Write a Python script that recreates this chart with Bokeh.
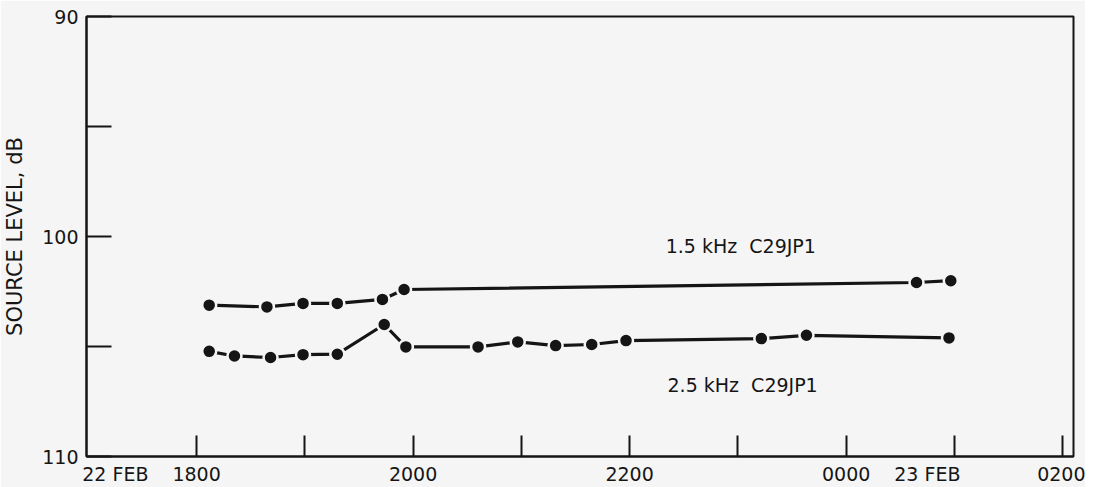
from bokeh.plotting import figure
from bokeh.models import Range1d, FixedTicker, Label
from bokeh.embed import file_html
from bokeh.resources import INLINE

# time in minutes after 1800 on 22 FEB
t_15 = [7, 39, 59, 78, 103, 115, 399, 418]
sl_15 = [103.12, 103.20, 103.04, 103.04, 102.86, 102.41, 102.09, 102.01]
t_25 = [7, 21, 41, 59, 78, 104, 116, 156, 178, 199, 219, 238, 313, 338, 417]
sl_25 = [105.22, 105.43, 105.50, 105.37, 105.35, 104.00, 105.02, 105.02,
         104.79, 104.96, 104.91, 104.73, 104.64, 104.49, 104.61]

hour_ticks = [0, 60, 120, 180, 240, 300, 360, 420, 480]
x_label_pos = [-45, 0, 120, 240, 360, 405, 480]
x_label_text = ["22 FEB", "1800", "2000", "2200", "0000", "23 FEB", "0200"]
y_ticks = [90, 95, 100, 105, 110]
y_tick_labels = ["90", "", "100", "", "110"]
series_names = ["1.5 kHz\u00a0\u00a0C29JP1", "2.5 kHz\u00a0\u00a0C29JP1"]

INK = "#151515"
BG = "#f5f5f5"
FONT = "DejaVu Sans"

p = figure(frame_width=987, frame_height=440, output_backend="svg", toolbar_location=None,
           x_range=Range1d(-61, 486), y_range=Range1d(110, 90),
           min_border_left=80, min_border_right=12, min_border_top=16, min_border_bottom=20)
p.background_fill_color = BG
p.border_fill_color = BG
p.grid.visible = False
p.outline_line_color = INK
p.outline_line_width = 2

for ax in (p.xaxis[0], p.yaxis[0]):
    ax.axis_line_color = INK
    ax.axis_line_width = 2
    ax.major_tick_line_color = INK
    ax.major_tick_line_width = 2
    ax.major_tick_out = 0
    ax.major_label_text_font = FONT
    ax.major_label_text_color = INK

# labels on major ticks (marks hidden), hourly marks drawn as minor ticks
p.xaxis.ticker = FixedTicker(ticks=x_label_pos, minor_ticks=hour_ticks)
p.xaxis.major_label_overrides = {t: l for t, l in zip(x_label_pos, x_label_text)}
p.xaxis.major_tick_line_color = None
p.xaxis.minor_tick_line_color = INK
p.xaxis.minor_tick_line_width = 2
p.xaxis.minor_tick_in = 21
p.xaxis.minor_tick_out = 0
p.xaxis.major_label_text_font_size = "19px"
p.xaxis.major_label_standoff = 6

p.yaxis.ticker = FixedTicker(ticks=y_ticks)
p.yaxis.minor_tick_line_color = None
p.yaxis.major_label_overrides = {t: l for t, l in zip(y_ticks, y_tick_labels)}
p.yaxis.major_tick_in = 25
p.yaxis.major_label_text_font_size = "19px"
p.yaxis.major_label_standoff = 8
p.yaxis.axis_label = "SOURCE LEVEL, dB"
p.yaxis.axis_label_text_font = FONT
p.yaxis.axis_label_text_font_size = "21px"
p.yaxis.axis_label_text_font_style = "normal"
p.yaxis.axis_label_text_color = INK
p.yaxis.axis_label_standoff = 12

for t, s in ((t_15, sl_15), (t_25, sl_25)):
    p.line(t, s, line_color=INK, line_width=3.2)
    p.scatter(t, s, size=14, fill_color=INK, line_color=BG, line_width=2.5)

for name, (lx, ly) in zip(series_names, [(260, 100.42), (261, 106.77)]):
    p.add_layout(Label(x=lx, y=ly, text=name, text_font=FONT, text_font_size="19px",
                       text_color=INK, text_baseline="middle", text_align="left"))

open("out.html", "w").write(file_html(p, INLINE))
